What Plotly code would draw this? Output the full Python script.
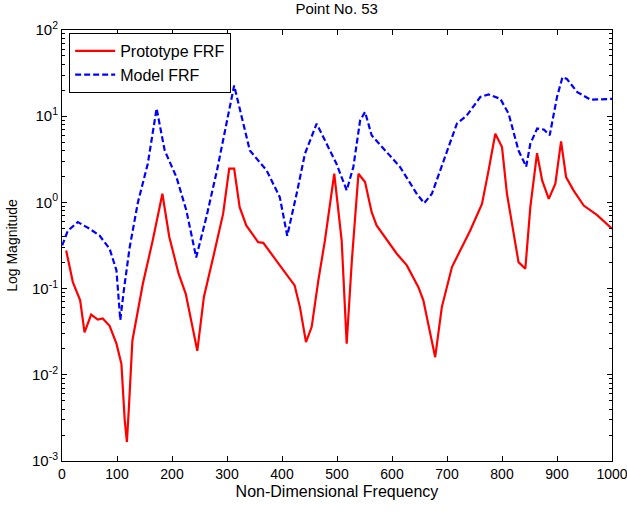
import plotly.graph_objects as go

proto_x = [7.6, 19.7, 33, 41, 53, 65, 74, 86.5, 99, 108, 114, 118, 122, 128, 147, 165, 182.5, 195, 212, 225, 246,
           258, 275, 293, 304, 313, 323, 335, 356.6, 366, 396, 423, 432.6, 443.6, 454, 466, 478, 495, 508.5, 517.6,
           527, 539, 551, 563, 572, 608.7, 627, 648, 657, 678.5, 690.6, 709, 742, 763.6, 775.6, 787.8, 800, 809,
           830, 842.4, 851.5, 863.7, 873, 885, 897, 907.4, 916.5, 930, 948.6, 973, 1000]
proto_y = [0.277, 0.119, 0.073, 0.031, 0.050, 0.0436, 0.045, 0.037, 0.023, 0.0134, 0.003, 0.00166, 0.0046, 0.025,
           0.114, 0.363, 1.26, 0.40, 0.149, 0.087, 0.019, 0.080, 0.232, 0.74, 2.46, 2.46, 0.88, 0.54, 0.346, 0.34,
           0.186, 0.109, 0.061, 0.024, 0.036, 0.124, 0.36, 2.15, 0.36, 0.023, 0.212, 2.15, 1.72, 0.77, 0.54, 0.254,
           0.186, 0.104, 0.073, 0.016, 0.061, 0.178, 0.47, 0.96, 2.35, 6.27, 4.38, 1.26, 0.203, 0.17, 0.88, 3.73,
           1.8, 1.1, 1.65, 5.1, 1.97, 1.38, 0.92, 0.71, 0.495]

model_x = [0.4, 10.6, 28.8, 50, 68, 86.5, 99, 106, 112, 123, 138, 156, 172, 186.7, 208, 226, 244, 262.6, 281.8,
           313, 341.5, 372, 396, 409.5, 426.6, 441.7, 463, 478, 499, 517.6, 529.7, 542, 551, 563, 587, 614.7, 645,
           658.5, 672.5, 693.6, 718, 736, 760.5, 775.6, 797, 812, 830, 844, 851.5, 864, 876, 886.7, 900, 910, 918,
           937, 961, 1000]
model_y = [0.317, 0.47, 0.59, 0.495, 0.414, 0.29, 0.163, 0.043, 0.091, 0.30, 1.0, 2.81, 12.3, 4.0, 1.97, 0.81,
           0.23, 0.68, 2.35, 22.7, 4.0, 2.35, 1.15, 0.41, 1.26, 3.67, 8.2, 5.24, 2.81, 1.38, 2.57, 8.9, 11.2, 6.0,
           4.0, 2.57, 1.26, 0.98, 1.26, 3.07, 8.2, 10.2, 16.7, 17.9, 15.9, 10.7, 4.0, 2.6, 4.8, 7.2, 7.0, 6.0, 16.7,
           28.4, 27, 19, 15.5, 15.9]

x_ticks = [0, 100, 200, 300, 400, 500, 600, 700, 800, 900, 1000]
y_ticks = [1e-3, 1e-2, 1e-1, 1, 10, 100]
y_ticktext = ["10<sup>-3</sup>", "10<sup>-2</sup>", "10<sup>-1</sup>", "10<sup>0</sup>", "10<sup>1</sup>", "10<sup>2</sup>"]
y_minor = [m * d for d in [1e-3, 1e-2, 1e-1, 1, 10] for m in range(2, 10)]

fig = go.Figure()
fig.add_trace(go.Scatter(x=proto_x, y=proto_y, mode="lines", name="Prototype FRF",
                         line=dict(color="#ff0000", width=2.2)))
fig.add_trace(go.Scatter(x=model_x, y=model_y, mode="lines", name="Model FRF",
                         line=dict(color="#0000ff", width=2.2, dash="6px,3px")))

font = dict(family="Liberation Sans, Arial, sans-serif", size=15, color="black")
fig.update_layout(
    width=627, height=513,
    margin=dict(l=62, r=15, t=30, b=52, autoexpand=False),
    paper_bgcolor="white", plot_bgcolor="white",
    font=font,
    title=dict(text="Point No. 53", x=0.537, xanchor="center", y=0.993, yanchor="top", font=dict(size=15)),
    showlegend=True,
    legend=dict(x=0.013, y=0.993, xanchor="left", yanchor="top", bordercolor="black", borderwidth=1,
                bgcolor="white", font=dict(size=16), tracegroupgap=0, itemwidth=40),
)
fig.update_xaxes(range=[0, 1000], tickvals=x_ticks, ticks="inside", ticklen=5, tickcolor="black",
                 tickfont=dict(size=14), ticklabeloverflow="allow", automargin=False,
                 showline=True, linecolor="black", linewidth=1, mirror="ticks", showgrid=False, zeroline=False,
                 title=dict(text="Non-Dimensional Frequency", standoff=5, font=dict(size=16)))
fig.update_yaxes(type="log", range=[-3, 2], tickvals=y_ticks, ticktext=y_ticktext, ticks="inside", ticklen=5,
                 tickfont=dict(size=15), automargin=False,
                 tickcolor="black", showline=True, linecolor="black", linewidth=1, mirror="ticks",
                 showgrid=False, zeroline=False,
                 minor=dict(tickvals=y_minor, ticks="inside", ticklen=3, tickcolor="black", showgrid=False),
                 title=dict(text="Log Magnitude", standoff=11, font=dict(size=14)))

fig.write_html("out.html", config={"displayModeBar": False},
               post_script="document.body.style.margin='0';document.body.style.overflow='hidden';")
